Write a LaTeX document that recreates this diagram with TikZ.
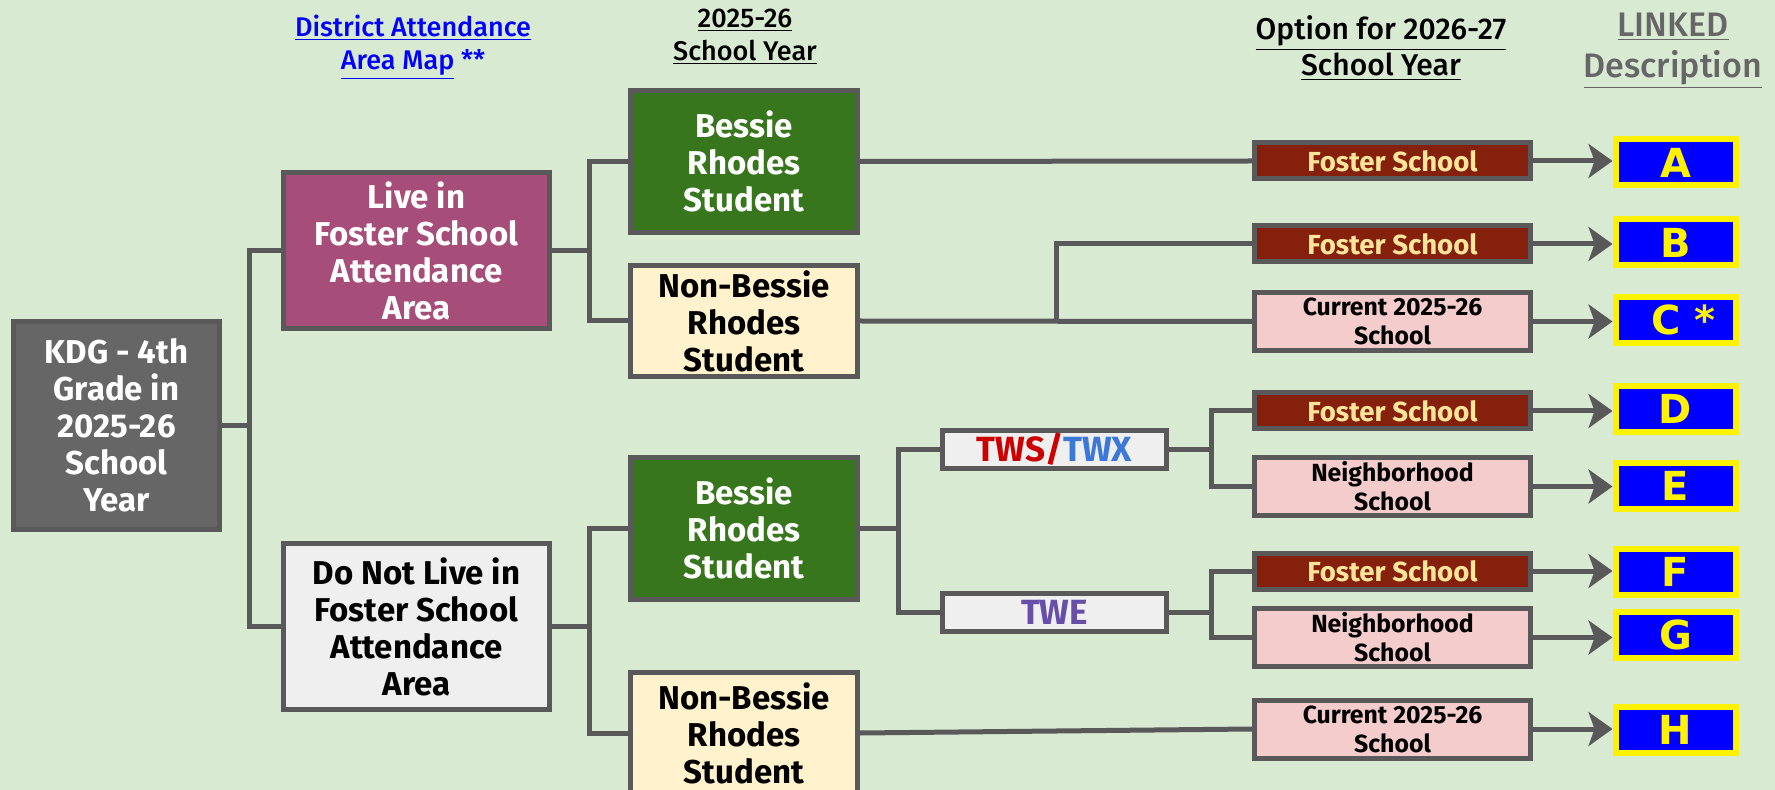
\documentclass[tikz,border=0pt]{standalone}
\usepackage{fontspec}
\setmainfont{Fira Sans}
\newfontfamily\headfont{Fira Sans}[UprightFont=* Medium]
\newfontfamily\letterfont{DejaVu Sans}
\usetikzlibrary{
    arrows.meta % for the big arrow tips
}

\definecolor{bgGreen}{HTML}{D9EAD3}
\definecolor{edgeGray}{HTML}{595959}
\definecolor{kdgGray}{HTML}{666666}
\definecolor{liveRose}{HTML}{A64D79}
\definecolor{paleGray}{HTML}{EFEFEF}
\definecolor{bessGreen}{HTML}{38761D}
\definecolor{paleCream}{HTML}{FFF2CC}
\definecolor{fosterBrown}{HTML}{85200C}
\definecolor{fosterText}{HTML}{FFE599}
\definecolor{palePink}{HTML}{F4CCCC}
\definecolor{linkBlue}{HTML}{0000FF}
\definecolor{twsRed}{HTML}{CC0000}
\definecolor{twxBlue}{HTML}{3C78D8}
\definecolor{twePurple}{HTML}{674EA7}

\begin{document}
\begin{tikzpicture}[
    x=0.5pt, y=-0.5pt,
    >={Stealth[length=12pt,width=17pt,inset=3pt]},
    box/.style         = {draw=edgeGray,line width=2.5pt,align=center,inner sep=0pt,
                          font=\bfseries\fontsize{16.5}{18.5}\selectfont},
    grade box/.style   = {box,fill=kdgGray,text=white,minimum width=103pt,minimum height=104pt},
    area box/.style    = {box,minimum width=133pt},
    student box/.style = {box,minimum width=113.5pt},
    bessie/.style      = {student box,fill=bessGreen,text=white,minimum height=71pt},
    non bessie/.style  = {student box,fill=paleCream,minimum height=55.5pt},
    program/.style     = {box,fill=paleGray,minimum width=112pt,minimum height=19pt,
                          font=\bfseries\fontsize{17.5}{18}\selectfont},
    foster/.style      = {box,fill=fosterBrown,text=fosterText,minimum width=138pt,minimum height=18pt,
                          font=\bfseries\fontsize{13.8}{15}\selectfont},
    local/.style       = {box,fill=palePink,minimum width=138pt,minimum height=29pt,
                          font=\bfseries\fontsize{12.4}{14.5}\selectfont},
    letter/.style      = {draw=yellow,fill=linkBlue,text=yellow,line width=3pt,inner sep=0pt,
                          minimum width=60pt,minimum height=23pt,
                          font=\letterfont\bfseries\fontsize{20}{20}\selectfont},
    header/.style      = {align=center,inner sep=0pt,font=\headfont\fontsize{13.5}{16.5}\selectfont},
    link/.style        = {draw=edgeGray,line width=2.5pt},
    arrow/.style       = {link,->}
]

% page and background
\fill [bgGreen] (0,0) rectangle (1775,790);
\useasboundingbox (0,0) rectangle (1775,790);

% column headers
\node [header,text=linkBlue] (hMap)    at (413,47)  {\underline{District Attendance}\\\underline{Area Map} **};
\node [header]               (hNow)    at (745,37)  {\underline{2025-26}\\\underline{School Year}};
\node [header,font=\headfont\fontsize{15}{18}\selectfont]
                             (hNext)   at (1381,48) {\underline{Option for 2026-27}\\\underline{School Year}};
\node [header,text=kdgGray,font=\headfont\fontsize{17}{20.5}\selectfont]
                             (hLinked) at (1673,51) {\underline{LINKED}\\\underline{Description}};

% grade and attendance area
\node [grade box]                                  (kdg)     at (116.5,425.5) {KDG - 4th\\Grade in\\2025-26\\School\\Year};
\node [area box,fill=liveRose,text=white,minimum height=78pt] (live) at (416.5,250.5) {Live in\\Foster School\\Attendance\\Area};
\node [area box,fill=paleGray,minimum height=83pt]            (notlive) at (416.5,626.5) {Do Not Live in\\Foster School\\Attendance\\Area};

% 2025-26 school
\node [bessie]                        (bessA) at (744,161.5) {Bessie\\Rhodes\\Student};
\node [non bessie]                    (nonbA) at (744,321)   {Non-Bessie\\Rhodes\\Student};
\node [bessie]                        (bessB) at (744,528.5) {Bessie\\Rhodes\\Student};
\node [non bessie,minimum height=61pt] (nonbB) at (744,733)  {Non-Bessie\\Rhodes\\Student};

% program
\node [program] (tws) at (1054.5,449.5) {\textcolor{twsRed}{TWS/}\textcolor{twxBlue}{TWX}};
\node [program] (twe) at (1054.5,612.5) {\textcolor{twePurple}{TWE}};

% options for 2026-27
\node [foster] (optA) at (1392.5,161)   {Foster School};
\node [foster] (optB) at (1392.5,244)   {Foster School};
\node [local]  (optC) at (1392.5,321.5) {Current 2025-26\\School};
\node [foster] (optD) at (1392.5,411)   {Foster School};
\node [local]  (optE) at (1392.5,486.5) {Neighborhood\\School};
\node [foster] (optF) at (1392.5,571)   {Foster School};
\node [local]  (optG) at (1392.5,637.5) {Neighborhood\\School};
\node [local]  (optH) at (1392.5,729)   {Current 2025-26\\School};

% linked descriptions
\node [letter] (letA) at (1675.5,162.5) {A};
\node [letter] (letB) at (1675.5,242.5) {B};
\node [letter] (letC) at (1675.5,320)   {\hspace{8pt}C *};
\node [letter] (letD) at (1675.5,409)   {D};
\node [letter] (letE) at (1675.5,486)   {E};
\node [letter] (letF) at (1675.5,572)   {F};
\node [letter] (letG) at (1675.5,635)   {G};
\node [letter] (letH) at (1675.5,730)   {H};

% junctions
\coordinate (j0) at (249,425.5);
\coordinate (j1) at (589,250.5);
\coordinate (j2) at (589,626.5);
\coordinate (j3) at (1056,321);
\coordinate (j4) at (898,528.5);
\coordinate (j5) at (1211,449.5);
\coordinate (j6) at (1211,612.5);

% connectors
\draw [link] (kdg.east) -- (j0);
\draw [link] (live.west) -| (j0) |- (notlive.west);
\draw [link] (live.east) -- (j1);
\draw [link] (bessA.west) -| (j1) |- (nonbA.west);
\draw [link] (notlive.east) -- (j2);
\draw [link] (bessB.west) -| (j2) |- (nonbB.west);
\draw [link] (bessA.east) -- (optA.west);
\draw [link] (nonbA.east) -- (optC.west);
\draw [link] (j3) |- (optB.west);
\draw [link] (bessB.east) -- (j4);
\draw [link] (tws.west) -| (j4) |- (twe.west);
\draw [link] (tws.east) -- (j5);
\draw [link] (optD.west) -| (j5) |- (optE.west);
\draw [link] (twe.east) -- (j6);
\draw [link] (optF.west) -| (j6) |- (optG.west);
\draw [link] (nonbB.east) -- (optH.west);

% arrows to descriptions
\foreach \n in {A,B,C,D,E,F,G,H}
    \draw [arrow] (opt\n.east) -- (opt\n.east -| let\n.west);

\end{tikzpicture}
\end{document}
